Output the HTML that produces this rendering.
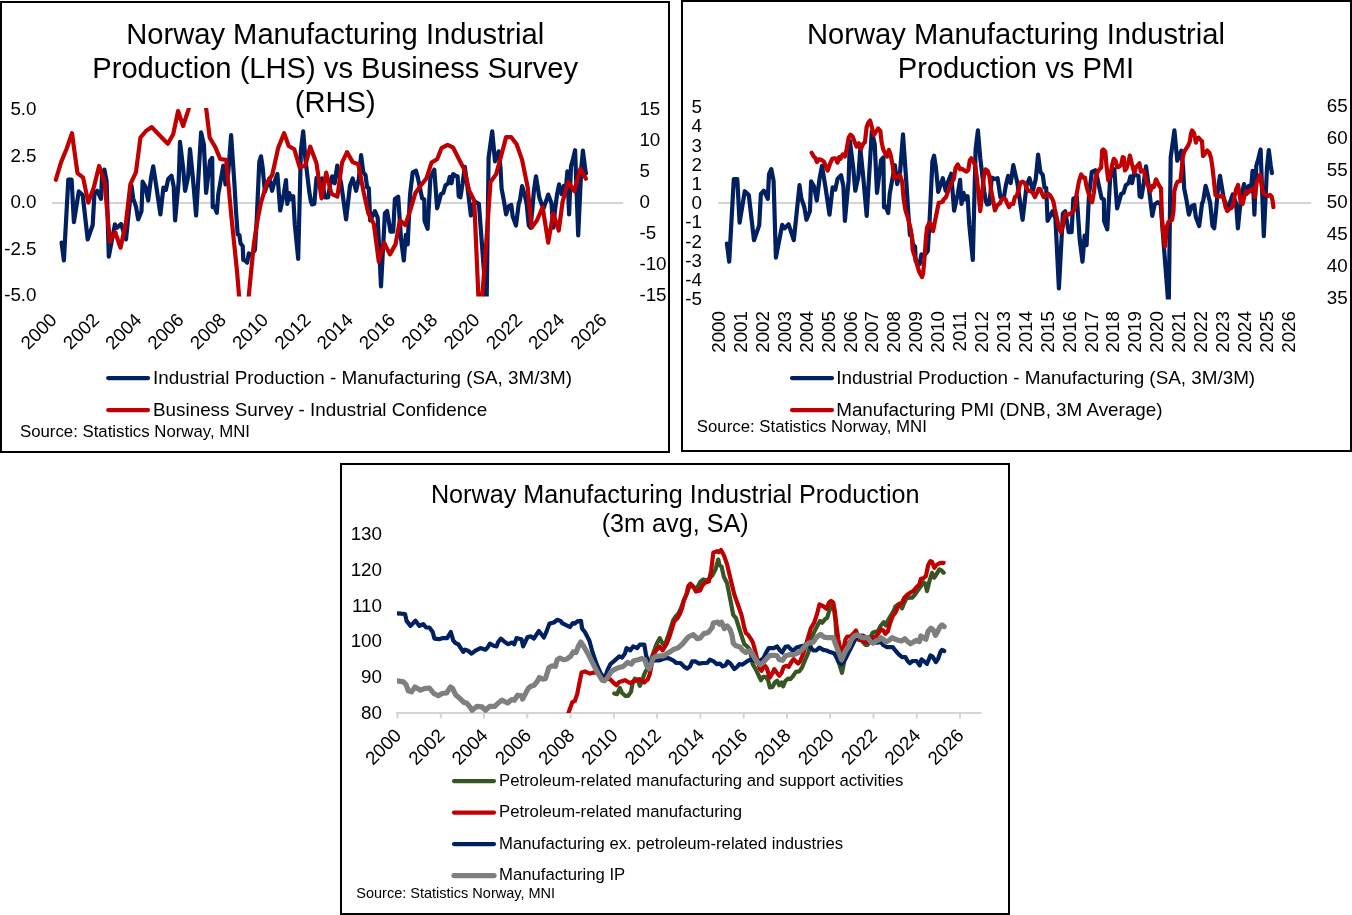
<!DOCTYPE html>
<html lang="en"><head><meta charset="utf-8"><title>Norway Manufacturing Industrial Production</title>
<style>
html,body{margin:0;padding:0;background:#fff;}
body{width:1352px;height:915px;overflow:hidden;}
svg{display:block;font-family:'Liberation Sans', sans-serif;}
</style></head><body>
<svg width="1352" height="915" viewBox="0 0 1352 915">
<defs><clipPath id="c1"><rect x="52" y="108" width="571" height="188.5"/></clipPath><clipPath id="c2"><rect x="718" y="107" width="593" height="192.5"/></clipPath><clipPath id="c3"><rect x="397" y="520" width="600" height="193"/></clipPath></defs>
<rect x="1" y="2" width="668" height="450" fill="#fff" stroke="#000" stroke-width="2"/>
<text x="335.2" y="44.4" font-size="29.15" text-anchor="middle" fill="#000">Norway Manufacturing Industrial</text>
<text x="335.2" y="78.15" font-size="29.15" text-anchor="middle" fill="#000">Production (LHS) vs Business Survey</text>
<text x="335.2" y="111.9" font-size="29.15" text-anchor="middle" fill="#000">(RHS)</text>
<text x="36.5" y="115.0" font-size="18.8" text-anchor="end" fill="#000">5.0</text>
<text x="36.5" y="161.6" font-size="18.8" text-anchor="end" fill="#000">2.5</text>
<text x="36.5" y="208.2" font-size="18.8" text-anchor="end" fill="#000">0.0</text>
<text x="36.5" y="254.8" font-size="18.8" text-anchor="end" fill="#000">-2.5</text>
<text x="36.5" y="301.4" font-size="18.8" text-anchor="end" fill="#000">-5.0</text>
<text x="639.4" y="114.5" font-size="18.8" text-anchor="start" fill="#000">15</text>
<text x="639.4" y="145.5" font-size="18.8" text-anchor="start" fill="#000">10</text>
<text x="639.4" y="176.5" font-size="18.8" text-anchor="start" fill="#000">5</text>
<text x="639.4" y="207.5" font-size="18.8" text-anchor="start" fill="#000">0</text>
<text x="639.4" y="238.5" font-size="18.8" text-anchor="start" fill="#000">-5</text>
<text x="639.4" y="269.5" font-size="18.8" text-anchor="start" fill="#000">-10</text>
<text x="639.4" y="300.5" font-size="18.8" text-anchor="start" fill="#000">-15</text>
<line x1="52" y1="203" x2="623" y2="203" stroke="#D4D4D6" stroke-width="2"/>
<text x="58.0" y="321" font-size="18.8" text-anchor="end" fill="#000" transform="rotate(-45 58.0 321)">2000</text>
<text x="100.3" y="321" font-size="18.8" text-anchor="end" fill="#000" transform="rotate(-45 100.3 321)">2002</text>
<text x="142.6" y="321" font-size="18.8" text-anchor="end" fill="#000" transform="rotate(-45 142.6 321)">2004</text>
<text x="184.9" y="321" font-size="18.8" text-anchor="end" fill="#000" transform="rotate(-45 184.9 321)">2006</text>
<text x="227.2" y="321" font-size="18.8" text-anchor="end" fill="#000" transform="rotate(-45 227.2 321)">2008</text>
<text x="269.5" y="321" font-size="18.8" text-anchor="end" fill="#000" transform="rotate(-45 269.5 321)">2010</text>
<text x="311.8" y="321" font-size="18.8" text-anchor="end" fill="#000" transform="rotate(-45 311.8 321)">2012</text>
<text x="354.1" y="321" font-size="18.8" text-anchor="end" fill="#000" transform="rotate(-45 354.1 321)">2014</text>
<text x="396.4" y="321" font-size="18.8" text-anchor="end" fill="#000" transform="rotate(-45 396.4 321)">2016</text>
<text x="438.7" y="321" font-size="18.8" text-anchor="end" fill="#000" transform="rotate(-45 438.7 321)">2018</text>
<text x="481.0" y="321" font-size="18.8" text-anchor="end" fill="#000" transform="rotate(-45 481.0 321)">2020</text>
<text x="523.3" y="321" font-size="18.8" text-anchor="end" fill="#000" transform="rotate(-45 523.3 321)">2022</text>
<text x="565.6" y="321" font-size="18.8" text-anchor="end" fill="#000" transform="rotate(-45 565.6 321)">2024</text>
<text x="607.9" y="321" font-size="18.8" text-anchor="end" fill="#000" transform="rotate(-45 607.9 321)">2026</text>
<polyline points="61.6,242.7 63.9,260.5 68.3,179.6 71.6,179.6 73.9,222.2 78.8,191.4 82.7,195.1 87.7,239.4 92.7,225.0 94.4,194.1 97.2,190.8 101.0,198.9 102.1,174.6 104.4,169.6 106.6,181.2 108.8,256.6 114.9,224.4 117.1,227.7 121.0,223.9 126.0,239.4 131.5,185.5 133.2,198.3 136.0,206.7 138.2,219.4 141.5,211.1 142.6,181.7 145.4,186.5 148.2,200.5 151.0,177.9 153.2,166.3 156.5,187.6 160.4,214.4 163.4,187.6 165.9,189.8 168.2,179.0 171.5,175.7 173.7,186.5 175.1,220.5 178.7,181.2 180.0,141.9 183.1,167.9 185.1,190.8 188.1,176.8 190.0,149.1 192.8,176.8 196.1,215.5 201.1,132.4 203.9,144.6 206.1,193.0 210.0,160.7 212.2,157.9 212.7,207.2 214.6,206.7 216.8,212.8 218.3,194.1 223.3,165.7 225.5,184.4 228.3,172.4 231.1,135.2 234.4,183.3 236.0,211.1 237.7,234.4 239.4,234.9 240.5,243.3 242.7,246.0 243.3,259.9 245.1,260.5 247.1,262.7 248.8,253.3 250.8,255.5 254.9,249.9 256.6,222.2 259.3,161.8 261.0,156.3 262.7,167.9 264.9,191.9 269.3,178.5 272.1,190.8 274.0,183.3 277.4,174.0 280.2,210.5 283.8,194.1 286.0,180.1 287.3,203.9 289.3,193.0 291.0,199.4 293.2,196.2 294.8,224.4 298.2,258.8 300.9,150.2 303.2,131.3 305.4,159.1 309.3,191.9 310.9,201.6 312.0,204.4 314.3,203.7 316.5,177.9 320.4,179.6 322.0,178.5 324.8,197.3 328.1,197.3 330.0,185.5 332.2,176.3 334.7,183.3 337.2,165.7 339.1,174.6 341.1,183.3 346.1,219.4 350.0,185.5 352.7,178.5 356.1,190.8 358.8,179.0 361.1,155.2 363.3,172.4 365.5,175.1 367.2,187.6 368.8,188.1 370.2,220.5 374.9,211.1 377.7,217.8 381.0,286.5 384.9,213.3 387.1,211.1 390.5,231.6 393.2,231.6 394.9,198.9 398.2,196.7 401.0,238.8 403.8,260.5 405.8,234.9 407.7,244.4 409.3,208.9 410.1,194.1 412.7,172.4 416.0,170.7 417.9,177.9 422.1,198.3 424.3,199.4 424.5,220.5 427.6,228.8 430.4,177.9 434.3,169.6 437.1,208.3 439.3,200.5 440.9,194.1 443.2,193.0 445.4,185.5 448.2,183.3 449.8,176.8 451.5,183.3 453.2,174.0 455.4,175.7 457.6,176.3 458.7,196.2 460.4,197.3 462.6,183.3 464.8,166.8 467.0,183.3 470.9,215.5 473.1,204.4 476.1,202.2 478.9,203.9 486.6,306.5 488.6,157.9 490.4,144.6 492.2,131.3 495.0,161.3 498.8,151.3 500.5,167.9 501.6,188.7 503.8,200.1 506.1,214.4 508.8,206.1 511.3,205.0 512.7,216.6 516.0,225.5 518.8,203.3 519.9,200.5 522.1,186.0 524.4,194.1 526.6,203.3 528.8,225.5 530.5,227.7 532.4,208.9 534.0,189.8 536.0,176.3 539.3,197.3 542.1,205.5 543.8,207.8 548.2,194.6 551.5,203.3 553.2,227.7 554.9,211.1 557.1,194.1 559.1,184.4 561.5,194.1 563.8,186.0 565.6,191.4 567.4,171.3 569.1,214.4 571.0,166.3 573.0,159.1 575.1,150.2 578.2,235.5 581.3,167.9 582.9,150.7 584.8,165.7 585.9,173.5" fill="none" stroke="#002060" stroke-width="4.2" stroke-linejoin="round" stroke-linecap="round" clip-path="url(#c1)"/>
<polyline points="55.8,179.8 61.1,162.1 66.6,148.8 72.0,133.2 77.5,173.2 83.1,177.6 88.3,202.6 93.8,187.4 99.1,166.0 104.6,182.0 109.9,241.6 115.2,232.2 120.5,247.7 126.0,222.2 130.4,184.2 136.0,172.1 140.4,137.7 146.0,131.0 151.8,127.1 157.1,132.7 162.4,138.2 167.8,143.8 173.2,134.3 178.1,111.0 183.1,126.0 188.7,108.8 194.2,83.3 201.1,77.8 205.0,98.8 209.7,137.7 215.3,147.1 220.2,159.0 226.1,159.9 231.6,218.9 237.0,271.0 242.1,333.1 247.7,306.5 253.8,244.4 257.7,218.9 261.0,202.6 266.8,183.1 272.3,174.8 278.2,147.7 284.1,133.2 288.7,146.0 294.3,149.3 299.8,167.6 305.4,165.4 310.2,146.6 316.5,163.2 321.5,198.3 326.2,172.6 331.5,193.9 337.4,196.7 342.0,162.6 347.0,152.1 352.7,162.1 358.3,164.3 363.8,192.9 368.3,213.3 373.8,223.9 378.8,261.6 384.1,242.7 389.9,254.4 395.5,244.4 399.9,220.5 405.4,225.0 411.0,207.8 415.4,192.9 421.0,185.2 426.5,178.2 431.5,162.6 437.1,159.3 441.5,148.2 447.6,144.9 453.2,147.7 458.7,158.8 464.2,169.3 469.2,190.7 474.2,200.5 479.8,328.7 485.2,257.6 490.5,182.0 496.1,174.3 501.6,154.3 506.1,137.1 511.1,137.1 516.6,144.3 522.1,159.9 527.7,187.4 531.6,227.7 536.9,220.5 542.7,207.2 548.2,242.7 553.2,213.3 558.8,230.5 562.6,201.6 568.2,182.0 574.3,191.2 580.4,168.7 585.9,178.7" fill="none" stroke="#C00000" stroke-width="4.2" stroke-linejoin="round" stroke-linecap="round" clip-path="url(#c1)"/>
<line x1="108.2" y1="378" x2="148" y2="378" stroke="#002060" stroke-width="4.25" stroke-linecap="round"/>
<text x="153" y="383.7" font-size="18.85" text-anchor="start" fill="#000">Industrial Production - Manufacturing (SA, 3M/3M)</text>
<line x1="108.2" y1="410" x2="148" y2="410" stroke="#C00000" stroke-width="4.25" stroke-linecap="round"/>
<text x="153" y="415.7" font-size="18.85" text-anchor="start" fill="#000">Business Survey - Industrial Confidence</text>
<text x="20" y="436.8" font-size="16.8" text-anchor="start" fill="#000">Source: Statistics Norway, MNI</text>
<rect x="682" y="1" width="669" height="450" fill="#fff" stroke="#000" stroke-width="2"/>
<text x="1016" y="44.0" font-size="29.15" text-anchor="middle" fill="#000">Norway Manufacturing Industrial</text>
<text x="1016" y="77.6" font-size="29.15" text-anchor="middle" fill="#000">Production vs PMI</text>
<text x="702" y="113.1" font-size="18.8" text-anchor="end" fill="#000">5</text>
<text x="702" y="132.3" font-size="18.8" text-anchor="end" fill="#000">4</text>
<text x="702" y="151.5" font-size="18.8" text-anchor="end" fill="#000">3</text>
<text x="702" y="170.7" font-size="18.8" text-anchor="end" fill="#000">2</text>
<text x="702" y="189.9" font-size="18.8" text-anchor="end" fill="#000">1</text>
<text x="702" y="209.1" font-size="18.8" text-anchor="end" fill="#000">0</text>
<text x="702" y="228.3" font-size="18.8" text-anchor="end" fill="#000">-1</text>
<text x="702" y="247.5" font-size="18.8" text-anchor="end" fill="#000">-2</text>
<text x="702" y="266.7" font-size="18.8" text-anchor="end" fill="#000">-3</text>
<text x="702" y="285.9" font-size="18.8" text-anchor="end" fill="#000">-4</text>
<text x="702" y="305.1" font-size="18.8" text-anchor="end" fill="#000">-5</text>
<text x="1326.8" y="111.5" font-size="18.8" text-anchor="start" fill="#000">65</text>
<text x="1326.8" y="143.6" font-size="18.8" text-anchor="start" fill="#000">60</text>
<text x="1326.8" y="175.7" font-size="18.8" text-anchor="start" fill="#000">55</text>
<text x="1326.8" y="207.8" font-size="18.8" text-anchor="start" fill="#000">50</text>
<text x="1326.8" y="239.9" font-size="18.8" text-anchor="start" fill="#000">45</text>
<text x="1326.8" y="272.0" font-size="18.8" text-anchor="start" fill="#000">40</text>
<text x="1326.8" y="304.1" font-size="18.8" text-anchor="start" fill="#000">35</text>
<line x1="718" y1="203" x2="1311" y2="203" stroke="#D4D4D6" stroke-width="2"/>
<text x="725.0" y="311" font-size="18.8" text-anchor="end" fill="#000" transform="rotate(-90 725.0 311)">2000</text>
<text x="746.9" y="311" font-size="18.8" text-anchor="end" fill="#000" transform="rotate(-90 746.9 311)">2001</text>
<text x="768.8" y="311" font-size="18.8" text-anchor="end" fill="#000" transform="rotate(-90 768.8 311)">2002</text>
<text x="790.7" y="311" font-size="18.8" text-anchor="end" fill="#000" transform="rotate(-90 790.7 311)">2003</text>
<text x="812.6" y="311" font-size="18.8" text-anchor="end" fill="#000" transform="rotate(-90 812.6 311)">2004</text>
<text x="834.5" y="311" font-size="18.8" text-anchor="end" fill="#000" transform="rotate(-90 834.5 311)">2005</text>
<text x="856.5" y="311" font-size="18.8" text-anchor="end" fill="#000" transform="rotate(-90 856.5 311)">2006</text>
<text x="878.4" y="311" font-size="18.8" text-anchor="end" fill="#000" transform="rotate(-90 878.4 311)">2007</text>
<text x="900.3" y="311" font-size="18.8" text-anchor="end" fill="#000" transform="rotate(-90 900.3 311)">2008</text>
<text x="922.2" y="311" font-size="18.8" text-anchor="end" fill="#000" transform="rotate(-90 922.2 311)">2009</text>
<text x="944.1" y="311" font-size="18.8" text-anchor="end" fill="#000" transform="rotate(-90 944.1 311)">2010</text>
<text x="966.0" y="311" font-size="18.8" text-anchor="end" fill="#000" transform="rotate(-90 966.0 311)">2011</text>
<text x="987.9" y="311" font-size="18.8" text-anchor="end" fill="#000" transform="rotate(-90 987.9 311)">2012</text>
<text x="1009.8" y="311" font-size="18.8" text-anchor="end" fill="#000" transform="rotate(-90 1009.8 311)">2013</text>
<text x="1031.7" y="311" font-size="18.8" text-anchor="end" fill="#000" transform="rotate(-90 1031.7 311)">2014</text>
<text x="1053.7" y="311" font-size="18.8" text-anchor="end" fill="#000" transform="rotate(-90 1053.7 311)">2015</text>
<text x="1075.6" y="311" font-size="18.8" text-anchor="end" fill="#000" transform="rotate(-90 1075.6 311)">2016</text>
<text x="1097.5" y="311" font-size="18.8" text-anchor="end" fill="#000" transform="rotate(-90 1097.5 311)">2017</text>
<text x="1119.4" y="311" font-size="18.8" text-anchor="end" fill="#000" transform="rotate(-90 1119.4 311)">2018</text>
<text x="1141.3" y="311" font-size="18.8" text-anchor="end" fill="#000" transform="rotate(-90 1141.3 311)">2019</text>
<text x="1163.2" y="311" font-size="18.8" text-anchor="end" fill="#000" transform="rotate(-90 1163.2 311)">2020</text>
<text x="1185.1" y="311" font-size="18.8" text-anchor="end" fill="#000" transform="rotate(-90 1185.1 311)">2021</text>
<text x="1207.0" y="311" font-size="18.8" text-anchor="end" fill="#000" transform="rotate(-90 1207.0 311)">2022</text>
<text x="1228.9" y="311" font-size="18.8" text-anchor="end" fill="#000" transform="rotate(-90 1228.9 311)">2023</text>
<text x="1250.8" y="311" font-size="18.8" text-anchor="end" fill="#000" transform="rotate(-90 1250.8 311)">2024</text>
<text x="1272.8" y="311" font-size="18.8" text-anchor="end" fill="#000" transform="rotate(-90 1272.8 311)">2025</text>
<text x="1294.7" y="311" font-size="18.8" text-anchor="end" fill="#000" transform="rotate(-90 1294.7 311)">2026</text>
<polyline points="726.9,243.5 729.2,261.7 733.8,179.2 737.3,179.2 739.6,222.6 744.8,191.2 748.8,195.0 754.0,240.2 759.2,225.4 760.9,193.9 763.8,190.7 767.8,198.8 769.0,174.2 771.3,169.2 773.6,180.9 775.9,257.7 782.2,224.9 784.6,228.3 788.6,224.3 793.8,240.2 799.5,185.2 801.3,198.3 804.2,206.7 806.5,219.8 809.9,211.3 811.1,181.4 814.0,186.3 816.8,200.5 819.7,177.6 822.0,165.8 825.5,187.4 829.5,214.7 832.6,187.4 835.3,189.6 837.6,178.7 841.1,175.3 843.4,186.3 844.9,220.9 848.6,180.9 849.9,141.1 853.2,167.5 855.3,190.7 858.4,176.5 860.3,148.4 863.2,176.5 866.7,215.8 871.8,131.5 874.7,143.9 877.0,192.8 881.1,160.2 883.4,157.4 884.0,207.3 885.9,206.7 888.2,213.0 889.7,193.9 894.9,165.2 897.2,184.1 900.1,172.0 903.0,134.3 906.4,183.1 908.2,211.3 909.9,235.1 911.6,235.6 912.8,244.1 915.1,246.9 915.7,261.1 917.6,261.7 919.7,263.9 921.4,254.3 923.5,256.6 927.8,250.9 929.5,222.6 932.4,161.3 934.1,155.7 935.9,167.5 938.2,191.8 942.8,178.2 945.7,190.7 947.6,183.1 951.2,173.7 954.1,210.7 957.8,193.9 960.1,179.8 961.5,203.9 963.5,192.8 965.3,199.4 967.6,196.1 969.3,224.9 972.8,260.0 975.6,149.5 977.9,130.4 980.3,158.5 984.3,191.8 986.0,201.6 987.2,204.5 989.5,203.8 991.8,177.6 995.8,179.2 997.6,178.2 1000.4,197.2 1003.9,197.2 1005.9,185.2 1008.1,175.9 1010.7,183.1 1013.3,165.2 1015.3,174.2 1017.4,183.1 1022.6,219.8 1026.6,185.2 1029.5,178.2 1032.9,190.7 1035.8,178.7 1038.1,154.5 1040.4,172.0 1042.7,174.8 1044.5,187.4 1046.2,188.0 1047.6,220.9 1052.6,211.3 1055.4,218.1 1058.9,288.3 1062.9,213.5 1065.2,211.3 1068.7,232.2 1071.6,232.2 1073.3,198.8 1076.8,196.7 1079.7,239.6 1082.5,261.7 1084.6,235.6 1086.6,245.2 1088.3,209.0 1089.1,193.9 1091.8,172.0 1095.2,170.3 1097.2,177.6 1101.6,198.3 1103.9,199.4 1104.1,220.9 1107.3,229.4 1110.2,177.6 1114.3,169.2 1117.1,208.4 1119.4,200.5 1121.2,193.9 1123.5,192.8 1125.8,185.2 1128.7,183.1 1130.4,176.5 1132.1,183.1 1133.9,173.7 1136.2,175.3 1138.5,175.9 1139.6,196.1 1141.4,197.2 1143.7,183.1 1146.0,166.4 1148.3,183.1 1152.3,215.8 1154.6,204.5 1157.7,202.2 1160.6,203.9 1168.7,308.7 1170.7,157.4 1172.6,143.9 1174.4,130.4 1177.3,160.7 1181.4,150.6 1183.1,167.5 1184.2,188.5 1186.5,200.1 1188.9,214.7 1191.7,206.2 1194.3,205.0 1195.8,216.9 1199.2,226.0 1202.1,203.3 1203.3,200.5 1205.6,185.8 1207.9,193.9 1210.2,203.3 1212.5,226.0 1214.2,228.3 1216.2,209.0 1217.9,189.6 1220.0,175.9 1223.5,197.2 1226.3,205.6 1228.1,207.9 1232.7,194.5 1236.1,203.3 1237.9,228.3 1239.6,211.3 1241.9,193.9 1244.0,184.1 1246.5,193.9 1248.8,185.8 1250.8,191.2 1252.6,170.8 1254.4,214.7 1256.3,165.8 1258.4,158.5 1260.6,149.5 1263.8,236.2 1267.0,167.5 1268.8,150.1 1270.7,165.2 1271.9,173.1" fill="none" stroke="#002060" stroke-width="4.2" stroke-linejoin="round" stroke-linecap="round" clip-path="url(#c2)"/>
<polyline points="811.6,152.7 813.9,156.6 815.5,158.3 816.9,162.1 818.9,159.4 821.6,159.9 823.9,161.6 826.1,167.1 827.7,170.5 830.0,163.8 832.2,158.8 834.4,158.3 836.1,158.8 837.5,162.7 839.1,157.1 840.5,158.8 842.7,154.4 844.9,156.6 846.6,149.4 848.8,137.2 850.5,134.7 852.7,136.6 854.9,142.7 856.6,146.6 858.8,143.3 861.0,148.8 863.2,143.8 864.9,142.2 866.6,127.2 868.2,122.8 870.1,120.5 871.9,127.2 873.8,135.0 876.0,131.6 878.2,128.5 880.4,131.1 881.5,141.6 883.2,149.4 885.4,153.8 887.1,156.6 888.8,149.9 890.4,153.8 892.6,164.9 894.3,178.2 896.5,177.7 898.2,176.0 899.9,174.9 902.1,181.6 903.7,199.3 905.4,210.0 908.2,218.9 910.9,230.0 912.1,238.8 912.6,249.9 914.8,256.6 917.0,264.3 919.3,272.1 922.0,277.1 923.2,273.2 924.3,259.9 925.9,238.8 927.0,227.7 929.3,222.7 931.5,225.0 933.1,231.1 934.8,222.2 937.0,211.1 938.7,202.8 940.3,202.6 943.1,201.5 943.3,199.9 946.1,197.1 948.3,190.4 950.5,184.9 953.9,178.8 955.5,168.2 957.8,164.4 960.0,169.3 962.2,168.8 964.4,170.5 966.6,171.6 968.3,169.9 969.7,160.5 971.3,158.3 973.3,161.6 975.3,165.5 976.6,176.0 978.3,190.4 980.2,211.1 982.2,193.8 983.8,177.1 985.5,169.3 987.7,171.0 989.4,176.0 991.0,189.3 992.7,198.2 994.9,210.5 997.1,205.5 999.9,203.3 1001.9,199.3 1003.8,198.2 1005.5,199.3 1007.1,203.3 1009.0,207.2 1011.0,203.9 1013.2,203.9 1014.9,197.1 1016.6,196.0 1018.8,189.3 1020.4,182.7 1022.7,181.6 1024.9,183.2 1026.5,187.7 1028.2,191.0 1030.4,191.0 1032.6,192.6 1034.9,197.1 1037.1,192.6 1038.7,188.8 1040.4,189.3 1042.1,193.8 1043.7,197.1 1046.0,195.4 1048.2,193.8 1049.8,194.9 1052.1,198.8 1053.4,201.5 1054.8,208.9 1056.5,216.6 1058.2,224.4 1059.6,229.4 1060.9,232.2 1062.6,227.7 1064.0,218.3 1065.4,213.3 1067.6,215.0 1069.6,213.9 1072.0,212.8 1074.2,210.0 1075.4,205.5 1076.7,193.8 1078.7,182.7 1081.1,174.3 1083.3,177.7 1085.0,177.7 1086.4,186.0 1088.3,192.6 1090.5,199.3 1092.2,202.2 1093.9,192.6 1095.5,178.2 1097.2,172.7 1099.4,169.3 1101.1,167.7 1102.2,150.5 1103.3,149.4 1105.3,151.6 1106.6,167.1 1108.3,180.4 1110.5,173.8 1112.2,164.9 1113.8,158.8 1115.5,160.5 1117.2,167.1 1119.4,166.6 1121.1,164.9 1122.7,157.1 1123.8,157.7 1124.9,170.5 1126.6,168.2 1128.3,162.7 1129.9,155.5 1131.6,162.7 1133.3,169.3 1134.4,172.7 1136.0,167.1 1137.7,165.5 1139.4,163.2 1140.8,171.6 1142.7,170.5 1144.3,171.6 1146.0,180.4 1148.2,186.0 1150.5,191.0 1152.1,186.0 1153.8,187.1 1156.0,179.3 1157.7,182.7 1159.3,186.0 1161.0,188.2 1161.9,216.6 1163.2,233.3 1164.9,246.6 1166.0,236.6 1166.8,226.6 1168.4,222.2 1170.4,220.5 1172.1,220.0 1173.5,211.1 1174.3,191.5 1176.0,184.9 1177.6,181.6 1180.4,181.0 1181.5,171.6 1182.6,158.3 1184.3,151.6 1186.0,148.8 1188.2,145.5 1189.8,141.6 1190.9,133.8 1192.1,130.5 1194.1,133.3 1195.9,142.7 1197.0,138.3 1198.7,137.7 1200.4,139.9 1202.0,141.1 1203.0,156.0 1205.0,153.8 1207.2,150.5 1209.4,152.7 1211.1,158.3 1212.4,167.1 1213.9,180.4 1215.5,195.4 1217.8,196.5 1220.0,196.5 1222.2,195.4 1223.9,199.3 1225.5,206.7 1227.2,211.1 1229.4,208.9 1231.6,207.8 1233.3,205.0 1234.4,197.1 1236.1,189.3 1238.1,184.9 1239.4,193.8 1240.8,202.6 1242.7,203.9 1244.4,196.0 1246.0,191.5 1248.3,192.6 1249.9,190.4 1252.1,189.3 1253.8,188.2 1254.9,197.1 1256.6,182.7 1258.2,179.3 1260.1,174.9 1261.6,184.9 1262.7,191.5 1264.3,193.8 1266.6,195.4 1268.2,196.0 1269.9,194.9 1271.6,196.5 1272.7,201.5 1273.4,207.2" fill="none" stroke="#C00000" stroke-width="4.2" stroke-linejoin="round" stroke-linecap="round" clip-path="url(#c2)"/>
<line x1="792" y1="378" x2="832" y2="378" stroke="#002060" stroke-width="4.25" stroke-linecap="round"/>
<text x="836.2" y="383.7" font-size="18.85" text-anchor="start" fill="#000">Industrial Production - Manufacturing (SA, 3M/3M)</text>
<line x1="792" y1="410" x2="832" y2="410" stroke="#C00000" stroke-width="4.25" stroke-linecap="round"/>
<text x="836.2" y="415.7" font-size="18.85" text-anchor="start" fill="#000">Manufacturing PMI (DNB, 3M Average)</text>
<text x="696.8" y="431.6" font-size="16.8" text-anchor="start" fill="#000">Source: Statistics Norway, MNI</text>
<rect x="341" y="464" width="668" height="450" fill="#fff" stroke="#000" stroke-width="2"/>
<text x="675.2" y="502.5" font-size="25.2" text-anchor="middle" fill="#000">Norway Manufacturing Industrial Production</text>
<text x="675.2" y="531.9" font-size="25.2" text-anchor="middle" fill="#000">(3m avg, SA)</text>
<text x="382" y="540.0" font-size="18.8" text-anchor="end" fill="#000">130</text>
<text x="382" y="575.8" font-size="18.8" text-anchor="end" fill="#000">120</text>
<text x="382" y="611.6" font-size="18.8" text-anchor="end" fill="#000">110</text>
<text x="382" y="647.4" font-size="18.8" text-anchor="end" fill="#000">100</text>
<text x="382" y="683.2" font-size="18.8" text-anchor="end" fill="#000">90</text>
<text x="382" y="719.0" font-size="18.8" text-anchor="end" fill="#000">80</text>
<line x1="396" y1="713" x2="981.5" y2="713" stroke="#D4D4D6" stroke-width="2"/>
<line x1="397.5" y1="713" x2="397.5" y2="718.5" stroke="#D4D4D6" stroke-width="2"/>
<text x="402.5" y="736.5" font-size="18.8" text-anchor="end" fill="#000" transform="rotate(-45 402.5 736.5)">2000</text>
<line x1="440.8" y1="713" x2="440.8" y2="718.5" stroke="#D4D4D6" stroke-width="2"/>
<text x="445.8" y="736.5" font-size="18.8" text-anchor="end" fill="#000" transform="rotate(-45 445.8 736.5)">2002</text>
<line x1="484.0" y1="713" x2="484.0" y2="718.5" stroke="#D4D4D6" stroke-width="2"/>
<text x="489.0" y="736.5" font-size="18.8" text-anchor="end" fill="#000" transform="rotate(-45 489.0 736.5)">2004</text>
<line x1="527.3" y1="713" x2="527.3" y2="718.5" stroke="#D4D4D6" stroke-width="2"/>
<text x="532.3" y="736.5" font-size="18.8" text-anchor="end" fill="#000" transform="rotate(-45 532.3 736.5)">2006</text>
<line x1="570.6" y1="713" x2="570.6" y2="718.5" stroke="#D4D4D6" stroke-width="2"/>
<text x="575.6" y="736.5" font-size="18.8" text-anchor="end" fill="#000" transform="rotate(-45 575.6 736.5)">2008</text>
<line x1="613.9" y1="713" x2="613.9" y2="718.5" stroke="#D4D4D6" stroke-width="2"/>
<text x="618.9" y="736.5" font-size="18.8" text-anchor="end" fill="#000" transform="rotate(-45 618.9 736.5)">2010</text>
<line x1="657.1" y1="713" x2="657.1" y2="718.5" stroke="#D4D4D6" stroke-width="2"/>
<text x="662.1" y="736.5" font-size="18.8" text-anchor="end" fill="#000" transform="rotate(-45 662.1 736.5)">2012</text>
<line x1="700.4" y1="713" x2="700.4" y2="718.5" stroke="#D4D4D6" stroke-width="2"/>
<text x="705.4" y="736.5" font-size="18.8" text-anchor="end" fill="#000" transform="rotate(-45 705.4 736.5)">2014</text>
<line x1="743.7" y1="713" x2="743.7" y2="718.5" stroke="#D4D4D6" stroke-width="2"/>
<text x="748.7" y="736.5" font-size="18.8" text-anchor="end" fill="#000" transform="rotate(-45 748.7 736.5)">2016</text>
<line x1="786.9" y1="713" x2="786.9" y2="718.5" stroke="#D4D4D6" stroke-width="2"/>
<text x="791.9" y="736.5" font-size="18.8" text-anchor="end" fill="#000" transform="rotate(-45 791.9 736.5)">2018</text>
<line x1="830.2" y1="713" x2="830.2" y2="718.5" stroke="#D4D4D6" stroke-width="2"/>
<text x="835.2" y="736.5" font-size="18.8" text-anchor="end" fill="#000" transform="rotate(-45 835.2 736.5)">2020</text>
<line x1="873.5" y1="713" x2="873.5" y2="718.5" stroke="#D4D4D6" stroke-width="2"/>
<text x="878.5" y="736.5" font-size="18.8" text-anchor="end" fill="#000" transform="rotate(-45 878.5 736.5)">2022</text>
<line x1="916.7" y1="713" x2="916.7" y2="718.5" stroke="#D4D4D6" stroke-width="2"/>
<text x="921.7" y="736.5" font-size="18.8" text-anchor="end" fill="#000" transform="rotate(-45 921.7 736.5)">2024</text>
<line x1="960.0" y1="713" x2="960.0" y2="718.5" stroke="#D4D4D6" stroke-width="2"/>
<text x="965.0" y="736.5" font-size="18.8" text-anchor="end" fill="#000" transform="rotate(-45 965.0 736.5)">2026</text>
<polyline points="614.3,693.5 617.1,694.1 619.9,688.0 622.1,693.0 625.4,695.8 628.2,695.8 631.0,691.9 632.6,683.0 634.8,678.6 637.6,679.7 639.8,685.8 642.1,680.8 644.3,674.1 645.9,670.8 649.3,666.4 652.0,656.4 656.5,644.2 659.8,638.1 662.6,643.6 664.8,645.3 668.7,634.2 673.1,620.3 675.3,617.0 678.7,613.1 681.6,606.6 683.9,599.9 686.6,594.4 688.9,587.7 691.1,585.5 693.9,587.2 696.6,588.8 700.5,581.6 703.3,579.4 707.2,580.5 709.9,577.7 712.7,574.9 715.5,569.4 718.3,559.4 719.4,565.0 721.6,566.6 723.8,576.6 727.1,583.3 730.5,600.5 733.2,614.9 736.0,618.2 738.8,627.1 742.7,639.3 744.3,644.2 747.7,646.9 749.9,649.7 752.7,664.1 756.0,669.7 758.8,675.8 761.0,680.2 763.2,676.9 766.0,676.9 768.2,680.8 769.9,687.4 772.6,686.9 774.8,682.5 777.1,680.8 779.3,685.2 781.5,682.5 783.2,686.3 785.4,680.8 788.2,678.6 790.4,679.1 793.2,675.8 795.9,671.9 799.3,671.4 802.0,667.5 804.8,660.8 808.1,653.1 810.9,644.2 812.2,636.0 815.0,630.4 817.8,624.9 820.0,621.0 822.2,622.7 825.0,619.3 827.2,617.7 829.4,610.5 831.6,606.0 833.9,608.3 835.5,621.6 837.0,643.8 838.7,662.2 842.0,672.8 844.1,662.2 845.5,652.6 848.8,642.6 853.3,637.1 856.6,634.9 859.9,637.7 863.3,642.6 865.5,644.9 867.7,644.9 870.5,637.1 872.7,632.7 875.5,631.6 877.7,631.6 880.5,626.0 883.8,622.1 886.0,625.5 888.2,619.9 891.0,615.5 893.8,610.5 895.4,606.6 898.8,603.8 900.4,604.4 902.1,608.3 903.8,603.8 906.5,598.3 909.9,597.7 912.1,597.7 914.8,594.9 918.2,589.9 920.9,586.1 923.2,582.2 925.4,583.8 927.0,591.1 929.3,581.6 932.0,572.8 934.3,577.7 937.0,573.3 939.3,569.4 941.5,570.5 943.7,572.8" fill="none" stroke="#375623" stroke-width="4.2" stroke-linejoin="round" stroke-linecap="round" clip-path="url(#c3)"/>
<polyline points="566.6,718.5 568.8,711.9 572.2,702.4 574.9,700.8 577.2,694.1 579.4,683.0 581.6,672.5 584.9,671.4 589.9,673.6 593.8,672.5 597.7,672.8 601.6,674.7 606.0,678.6 609.9,679.1 613.8,683.0 616.5,685.2 619.3,681.9 624.9,680.2 629.9,683.0 634.3,681.3 639.3,679.1 644.3,682.5 647.6,679.7 649.8,674.1 651.5,665.3 653.2,656.4 655.4,651.4 659.3,646.4 662.6,650.3 666.5,644.2 669.2,637.5 672.0,628.6 674.2,621.4 677.6,618.1 680.0,613.8 682.2,607.7 683.9,600.5 686.6,593.8 688.3,586.0 690.5,583.8 693.3,586.6 696.1,591.6 700.0,590.5 702.7,584.9 704.9,582.7 708.8,581.6 711.1,571.1 713.3,552.8 717.2,551.1 718.8,552.2 721.0,550.0 723.8,555.0 727.1,564.4 730.5,578.8 734.3,594.4 738.2,605.5 741.6,615.4 744.3,627.6 746.0,633.2 748.2,634.9 751.5,639.9 752.7,642.0 754.9,649.7 757.6,660.8 759.9,668.6 761.5,670.8 764.3,665.3 766.5,667.5 769.9,677.5 772.6,673.0 774.3,669.1 777.1,673.0 779.3,675.8 781.5,673.0 783.7,666.9 786.5,665.8 788.7,666.9 791.5,661.9 793.7,659.2 795.9,661.4 798.1,663.6 800.4,660.8 802.6,655.3 804.8,648.6 807.6,639.2 810.7,628.6 814.2,622.5 817.0,614.2 819.4,604.4 822.8,606.0 826.6,608.8 828.9,602.7 831.1,601.0 833.3,602.7 835.0,612.7 836.6,626.0 838.3,639.3 841.3,654.3 843.3,649.3 845.5,639.3 847.2,636.5 850.5,636.5 853.3,633.8 856.0,630.4 857.7,634.9 858.8,639.9 862.7,640.4 866.0,642.6 868.8,641.0 872.1,638.2 876.6,636.0 878.8,632.7 881.0,629.3 883.2,630.4 885.4,633.8 887.7,631.6 889.9,623.8 892.7,616.0 895.4,612.7 897.6,607.7 899.9,603.8 902.1,602.7 904.3,597.7 907.6,594.4 911.0,592.2 913.2,591.1 916.5,587.2 919.3,584.4 920.9,578.9 923.2,578.3 925.9,576.1 928.2,565.0 930.4,561.1 932.0,561.7 934.3,567.8 936.5,565.0 939.3,563.3 941.5,562.8 943.7,562.8" fill="none" stroke="#C00000" stroke-width="4.2" stroke-linejoin="round" stroke-linecap="round" clip-path="url(#c3)"/>
<polyline points="397.2,613.3 401.1,613.7 405.0,614.0 406.6,620.9 410.5,625.9 415.5,620.7 419.4,625.9 423.3,624.2 426.1,627.5 429.4,627.5 432.7,632.0 434.4,638.6 439.4,639.2 442.7,638.1 447.1,638.1 450.8,632.0 453.2,640.3 455.5,643.1 458.2,644.2 463.2,651.9 464.9,649.7 468.2,650.8 471.5,653.6 476.0,650.3 480.4,648.1 485.4,649.7 487.6,647.5 489.9,643.6 493.7,645.8 496.5,646.4 498.2,642.0 500.9,638.6 504.8,642.0 508.2,644.2 512.0,642.5 514.3,644.2 516.5,638.1 521.5,639.2 523.1,646.4 527.6,637.0 530.9,636.4 533.9,638.6 538.9,630.9 543.9,637.5 546.6,631.4 549.4,623.6 553.9,622.5 557.2,619.8 560.5,620.9 562.2,623.1 566.6,625.3 569.9,627.0 572.7,623.1 574.9,623.6 577.2,621.4 581.0,620.9 582.1,628.6 584.9,632.0 589.4,640.8 592.1,650.8 596.6,664.1 601.0,674.1 604.3,679.7 607.7,669.7 610.4,664.1 614.3,660.8 619.3,656.4 622.1,657.5 624.9,653.6 626.5,648.1 630.4,650.3 633.2,646.4 637.1,648.1 639.8,644.7 644.3,644.7 645.9,654.2 648.7,664.1 650.9,661.9 655.4,660.3 659.8,660.3 664.2,658.6 668.1,658.0 673.1,660.3 676.4,663.0 676.7,663.0 680.5,663.0 684.4,666.9 687.2,668.6 690.0,666.4 692.2,661.4 695.5,661.4 698.8,663.6 703.3,663.0 707.2,663.0 709.9,659.7 713.8,661.4 716.6,664.1 719.9,663.6 722.7,666.4 725.5,665.3 727.7,661.4 730.5,663.6 734.3,669.1 737.1,666.9 739.3,664.1 742.1,664.7 745.4,662.5 748.8,660.3 752.7,659.7 756.0,661.4 759.9,660.8 763.2,658.6 766.5,651.9 768.7,648.1 773.7,648.1 777.1,646.4 779.8,650.3 782.1,652.5 785.4,646.9 788.2,646.4 790.9,649.2 793.2,650.8 796.5,647.5 800.9,646.4 805.4,645.3 808.7,645.3 810.9,647.7 813.3,650.5 816.1,650.5 819.4,647.7 823.3,649.9 826.6,650.5 830.0,652.1 833.9,653.2 836.1,656.6 838.6,662.1 841.6,664.3 845.5,658.8 848.8,652.1 852.7,644.4 855.5,638.8 858.8,636.0 862.1,635.5 867.7,637.7 872.1,641.0 876.6,642.7 881.0,642.1 883.2,644.9 886.6,647.1 892.7,647.1 895.4,650.5 898.8,654.3 902.1,657.1 905.4,657.1 907.6,661.0 909.9,663.2 912.6,661.0 916.5,661.0 919.8,665.4 921.5,659.3 923.7,661.0 927.0,663.8 930.4,655.5 932.6,656.6 935.9,662.1 938.1,658.8 940.4,652.1 942.0,649.9 944.2,651.0" fill="none" stroke="#002060" stroke-width="4.2" stroke-linejoin="round" stroke-linecap="round" clip-path="url(#c3)"/>
<polyline points="397.2,680.8 403.3,681.9 406.1,684.7 408.3,690.8 411.6,691.9 415.0,686.9 420.0,690.2 424.4,688.6 429.4,688.0 433.8,693.5 438.3,695.8 442.1,693.5 446.6,693.0 450.5,686.9 452.7,688.6 455.5,694.7 458.8,697.4 463.8,702.4 466.6,703.0 469.9,706.9 472.1,710.2 477.1,706.3 482.1,706.9 485.4,710.2 489.9,706.3 494.8,706.3 498.2,703.0 502.1,700.2 507.6,703.0 511.5,699.6 514.3,700.2 517.6,695.2 521.5,695.8 522.6,699.1 528.1,688.6 530.9,686.3 534.2,685.2 537.6,680.8 539.4,677.5 542.8,679.1 545.5,678.6 548.9,667.5 552.2,665.8 555.5,666.4 557.2,659.7 560.0,658.0 563.3,659.7 566.6,659.2 570.5,656.4 573.3,651.9 576.0,652.5 578.8,645.3 580.8,642.0 584.4,647.5 588.8,655.3 593.2,664.1 597.7,673.0 602.1,680.2 604.3,680.8 607.7,677.5 611.0,671.9 614.3,669.7 618.8,667.5 623.2,666.4 627.6,662.5 631.5,664.1 633.7,660.8 638.2,659.7 642.1,658.6 644.8,659.7 647.0,666.4 649.3,668.6 651.5,663.0 653.2,658.0 656.5,656.4 660.4,655.8 663.7,655.8 667.6,653.1 670.0,651.9 673.9,649.2 677.8,648.1 682.2,644.2 685.5,640.3 688.3,637.0 693.3,634.7 697.2,638.6 700.0,638.1 703.8,633.6 708.3,632.5 712.2,627.5 713.3,623.1 717.7,622.0 719.4,624.2 721.6,622.2 724.4,628.6 727.1,625.9 729.9,629.2 732.1,635.3 733.2,643.1 736.0,645.8 739.9,646.9 742.7,650.3 746.0,652.5 749.3,650.8 752.1,653.1 754.9,658.6 757.6,662.5 760.4,664.7 763.8,661.9 766.5,658.6 769.9,655.3 774.3,655.3 777.1,655.8 779.3,659.7 782.6,660.3 785.4,655.8 789.3,654.7 793.2,654.7 797.6,653.1 801.5,650.3 805.4,645.8 808.7,643.1 813.3,642.1 816.7,637.1 820.5,634.3 823.9,637.1 827.8,637.7 833.3,637.7 835.5,643.8 838.8,652.6 841.6,659.8 845.5,651.0 848.8,646.0 851.6,639.3 854.4,636.0 857.2,634.9 859.9,636.5 863.3,637.7 867.7,637.7 870.5,641.5 873.2,643.2 876.0,641.0 878.8,639.9 881.0,637.7 883.8,639.9 886.0,642.1 888.8,640.4 892.1,637.7 895.4,639.3 898.8,640.4 901.5,641.0 904.9,638.8 907.6,641.5 910.4,643.8 913.2,642.1 916.5,640.4 919.3,641.5 920.9,636.0 923.2,637.7 925.9,639.3 928.2,631.0 930.9,628.2 933.2,629.9 935.4,635.4 937.6,631.6 939.8,627.1 942.0,624.9 944.2,626.6" fill="none" stroke="#7F7F7F" stroke-width="5.2" stroke-linejoin="round" stroke-linecap="round" clip-path="url(#c3)"/>
<line x1="454" y1="781.0" x2="494" y2="781.0" stroke="#375623" stroke-width="4.25" stroke-linecap="round"/>
<text x="499" y="785.7" font-size="16.7" text-anchor="start" fill="#000">Petroleum-related manufacturing and support activities</text>
<line x1="454" y1="812.5" x2="494" y2="812.5" stroke="#C00000" stroke-width="4.25" stroke-linecap="round"/>
<text x="499" y="817.2" font-size="16.7" text-anchor="start" fill="#000">Petroleum-related manufacturing</text>
<line x1="454" y1="844.0" x2="494" y2="844.0" stroke="#002060" stroke-width="4.25" stroke-linecap="round"/>
<text x="499" y="848.7" font-size="16.7" text-anchor="start" fill="#000">Manufacturing ex. petroleum-related industries</text>
<line x1="454" y1="875.5" x2="494" y2="875.5" stroke="#7F7F7F" stroke-width="5.25" stroke-linecap="round"/>
<text x="499" y="880.2" font-size="16.7" text-anchor="start" fill="#000">Manufacturing IP</text>
<text x="356.3" y="898" font-size="14.5" text-anchor="start" fill="#000">Source: Statistics Norway, MNI</text>
</svg>
</body></html>
